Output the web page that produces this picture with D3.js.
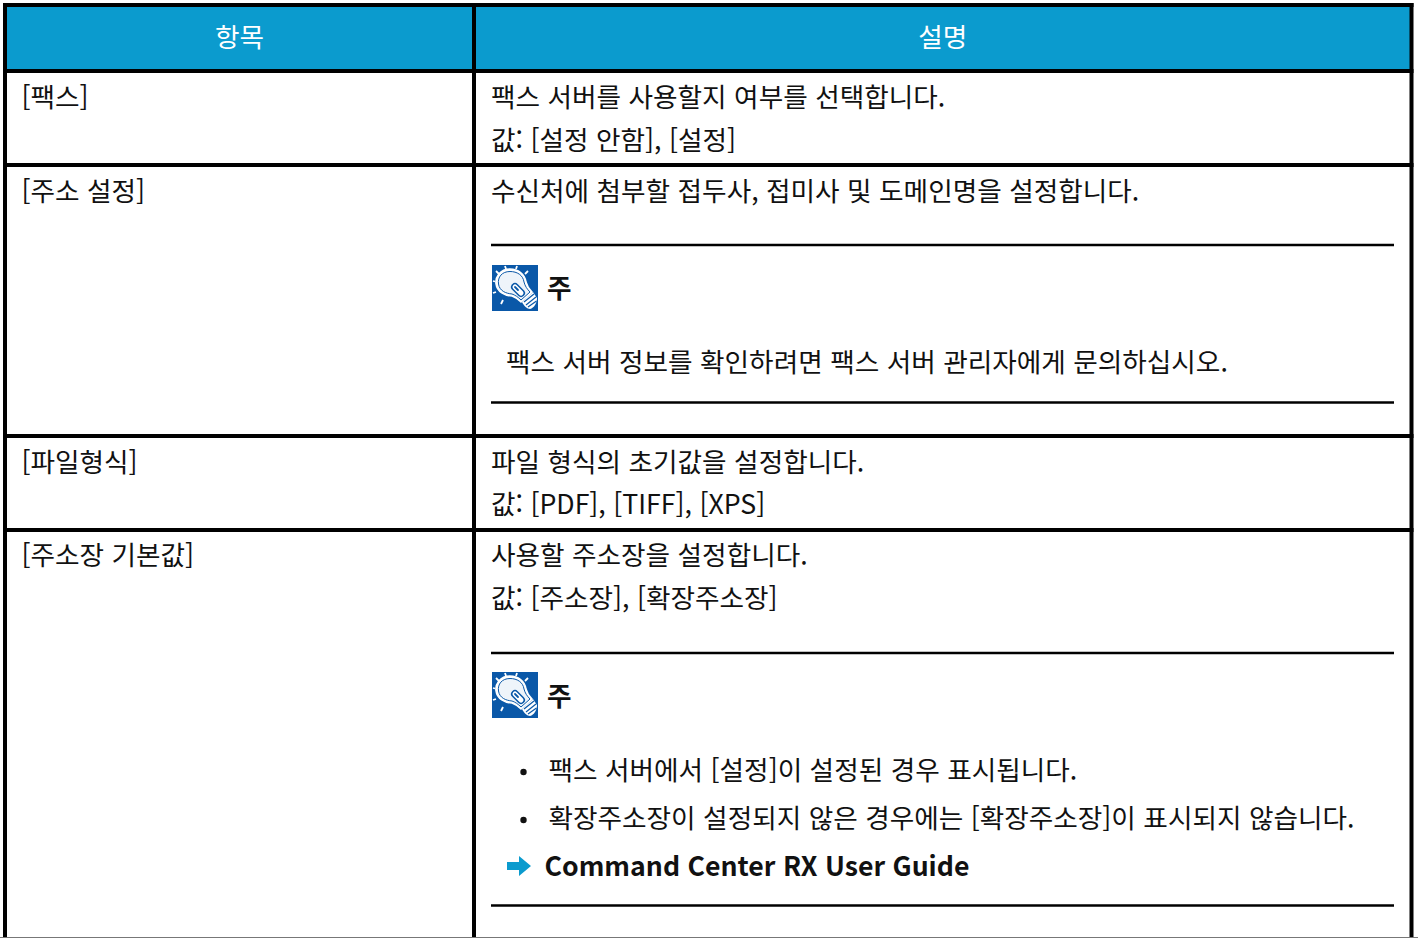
<!DOCTYPE html>
<html lang="ko">
<head>
<meta charset="utf-8">
<script src="https://cdn.jsdelivr.net/npm/d3@7"></script>
<style>
  html, body { margin: 0; padding: 0; background: #fff; overflow: hidden; }
  text { font-family: "Noto Sans CJK KR", "Noto Sans", sans-serif; }
</style>
</head>
<body>
<div id="chart"></div>
<script>
// table content
const headers = ["항목", "설명"];
const items = ["[팩스]", "[주소 설정]", "[파일형식]", "[주소장 기본값]"];
const descFax = ["팩스 서버를 사용할지 여부를 선택합니다.", "값: [설정 안함], [설정]"];
const descAddress = ["수신처에 첨부할 접두사, 접미사 및 도메인명을 설정합니다."];
const noteAddress = ["팩스 서버 정보를 확인하려면 팩스 서버 관리자에게 문의하십시오."];
const descFormat = ["파일 형식의 초기값을 설정합니다.", "값: [PDF], [TIFF], [XPS]"];
const descBook = ["사용할 주소장을 설정합니다.", "값: [주소장], [확장주소장]"];
const noteBook = ["팩스 서버에서 [설정]이 설정된 경우 표시됩니다.", "확장주소장이 설정되지 않은 경우에는 [확장주소장]이 표시되지 않습니다."];
const noteLabel = "주";
const linkLabel = "Command Center RX User Guide";

const width = 1418, height = 938;
const blue = "#0b9bce", iconBlue = "#0a58a8", ink = "#111";
const fontSize = 26.67;

const svg = d3.select("#chart").append("svg")
  .attr("width", width)
  .attr("height", height)
  .style("display", "block");

// column and row edges of the table
const colX = d3.scaleOrdinal().domain(["left", "mid", "right"]).range([5, 474, 1411.5]);
const rowY = d3.scaleOrdinal().domain(["top", "head", "fax", "address", "format"]).range([5, 71, 165, 436, 530]);

// header band
svg.append("rect")
  .attr("x", colX("left")).attr("y", rowY("top"))
  .attr("width", colX("right") - colX("left"))
  .attr("height", rowY("head") - rowY("top"))
  .attr("fill", blue);

// grid
let g = svg.append("g").attr("stroke", "#000").attr("stroke-width", 4);
g.selectAll(".h").data(["top", "head", "fax", "address", "format"]).join("line")
  .attr("x1", colX("left") - 2).attr("x2", colX("right") + 2)
  .attr("y1", d => rowY(d)).attr("y2", d => rowY(d));
g.selectAll(".v").data(["left", "mid", "right"]).join("line")
  .attr("x1", d => colX(d)).attr("x2", d => colX(d))
  .attr("y1", rowY("top") - 2).attr("y2", height);

svg.append("line")
  .attr("x1", 0).attr("x2", width)
  .attr("y1", 937.5).attr("y2", 937.5)
  .attr("stroke", "#777").attr("stroke-width", 1);

function label(parent, str, x, y, opts = {}) {
  return parent.append("text")
    .attr("x", x).attr("y", y)
    .attr("font-size", opts.size || fontSize)
    .attr("font-weight", opts.weight || 400)
    .attr("fill", opts.fill || ink)
    .attr("text-anchor", opts.anchor || "start")
    .text(str);
}

// header text
headers.forEach((h, i) => {
  const a = i ? colX("mid") : colX("left"), b = i ? colX("right") : colX("mid");
  label(svg, h, (a + b) / 2, 47, { anchor: "middle", fill: "#fff" });
});

// left column
const itemY = d3.scaleOrdinal().domain(items).range([107, 201, 472, 565]);
items.forEach(d => label(svg, d, 21.5, itemY(d)));

// right column plain lines
const descX = 491;
descFax.forEach((d, i) => label(svg, d, descX, [107, 150][i]));
descAddress.forEach(d => label(svg, d, descX, 201));
descFormat.forEach((d, i) => label(svg, d, descX, [472, 514][i]));
descBook.forEach((d, i) => label(svg, d, descX, [565, 608][i]));

// note rules
svg.append("g").attr("stroke", "#000").attr("stroke-width", 2.5)
  .selectAll("line").data([245, 402.5, 653, 905.5]).join("line")
  .attr("x1", descX).attr("x2", 1394)
  .attr("y1", d => d).attr("y2", d => d);

// note icon: light bulb on a blue square
function bulb(x, y) {
  const s = svg.append("g").attr("transform", `translate(${x},${y})`);
  s.append("rect").attr("width", 46).attr("height", 46).attr("fill", iconBlue);
  // rays
  s.append("g").attr("stroke", "#fff").attr("stroke-width", 1.8)
    .selectAll("line").data([
      [4, 6, 7, 9], [13, 1, 14, 4], [25, 1, 24, 4], [36, 6, 33, 9],
      [1, 16, 3, 16.5], [1, 28, 4, 27], [11, 35, 9, 39]
    ]).join("line")
    .attr("x1", d => d[0]).attr("y1", d => d[1])
    .attr("x2", d => d[2]).attr("y2", d => d[3]);
  // glass
  s.append("path")
    .attr("d", "M18 4 C8 4 3 12 4 19 C5 27 13 31 20 31 C23 32 26 34 29 37 L40 27 C37 24 35 21 34 17 C33 9 26 4 18 4 Z")
    .attr("fill", "#fff").attr("stroke", "#fff").attr("stroke-width", 1.5);
  s.append("path")
    .attr("d", "M18 6.5 C10 6.5 5.5 12 6.5 19 C7.5 26 14 28.5 20 29 C23 30 26 32 29 35 L38 27 C35 24 33 21 32 17 C31 10 25 6.5 18 6.5 Z")
    .attr("fill", "#eef4fa").attr("stroke", iconBlue).attr("stroke-width", 1);
  // filament capsule
  s.append("line")
    .attr("x1", 23).attr("y1", 22).attr("x2", 29).attr("y2", 28)
    .attr("stroke", iconBlue).attr("stroke-width", 8).attr("stroke-linecap", "round");
  s.append("line")
    .attr("x1", 23).attr("y1", 22).attr("x2", 29).attr("y2", 28)
    .attr("stroke", "#fff").attr("stroke-width", 5).attr("stroke-linecap", "round");
  s.append("line")
    .attr("x1", 23).attr("y1", 22).attr("x2", 26).attr("y2", 25)
    .attr("stroke", iconBlue).attr("stroke-width", 1.8).attr("stroke-linecap", "round");
  // screw base
  s.append("path")
    .attr("d", "M30 37 L41 27 L45 33 C45 38 42 43 38 44 C35 44 32 41 30 37 Z")
    .attr("fill", "#fff");
  s.append("g").attr("stroke", iconBlue).attr("stroke-width", 1.2)
    .selectAll("line").data([[32, 37, 42, 29], [34, 40, 44, 32], [36, 42, 44.5, 36]]).join("line")
    .attr("x1", d => d[0]).attr("y1", d => d[1])
    .attr("x2", d => d[2]).attr("y2", d => d[3]);
}

[[492, 265, 298], [492, 672, 706]].forEach(d => {
  bulb(d[0], d[1]);
  label(svg, noteLabel, 547, d[2], { weight: 700 });
});

// note bodies
noteAddress.forEach(d => label(svg, d, 506, 372));
noteBook.forEach((d, i) => {
  const y = [780, 828][i];
  svg.append("circle").attr("cx", 523.5).attr("cy", y - 8).attr("r", 3.2).attr("fill", ink);
  label(svg, d, 548.5, y);
});

// link line
svg.append("path")
  .attr("d", "M507 862 H519 V856 L531 866 L519 876 V870 H507 Z")
  .attr("fill", blue);
label(svg, linkLabel, 544.5, 876, { weight: 700 });
</script>
</body>
</html>
